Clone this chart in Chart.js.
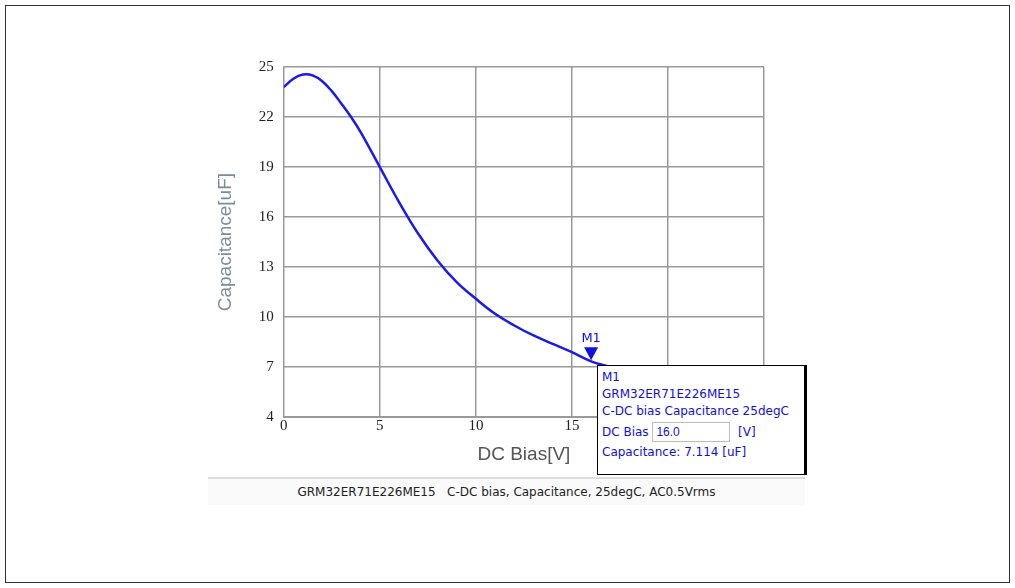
<!DOCTYPE html>
<html lang="en">
<head>
<meta charset="UTF-8">
<title>GRM32ER71E226ME15 C-DC bias</title>
<script src="https://cdn.jsdelivr.net/npm/chart.js@4.4.0/dist/chart.umd.min.js"></script>
<style>
  body { margin: 0; background: #fff; font-family: "DejaVu Sans", sans-serif; }
  #frame { position: absolute; left: 5px; top: 5px; width: 1003px; height: 576px; border: 1px solid #333; }
  #wrap { position: absolute; left: 200px; top: 48px; width: 610px; height: 422px; }
  #footer { position: absolute; left: 208px; top: 477px; width: 597px; height: 26px; border-top: 2px solid #ddd;
            background: #fafafa; font-size: 12px; color: #222; text-align: center; line-height: 26px; }
  #info { position: absolute; left: 597px; top: 365px; width: 210px; height: 110px; background: #fff;
          border: 1px solid #000; border-right: 3px solid #000; color: #1010e0; font-size: 12px; padding: 3px 4px; box-sizing: border-box; }
  #info div { height: 17px; line-height: 17px; }
  #info input { width: 70px; height: 18px; font-size: 12px; color: #1010e0; border: 1px solid #bbb; padding: 0 3px; }
</style>
</head>
<body>
<div id="frame"></div>
<div id="wrap"><canvas id="chart"></canvas></div>
<div id="footer">GRM32ER71E226ME15&nbsp;&nbsp; C-DC bias, Capacitance, 25degC, AC0.5Vrms</div>
<div id="info">
  <div>M1</div>
  <div>GRM32ER71E226ME15</div>
  <div>C-DC bias Capacitance 25degC</div>
  <div style="height:24px;line-height:24px">DC Bias <input value="16.0"> &nbsp;[V]</div>
  <div>Capacitance: 7.114 [uF]</div>
</div>
<script>
    const biasV = [0, 0.5, 1, 1.5, 2, 2.5, 3, 3.5, 4, 5, 6, 7, 8, 9, 10, 11, 12, 13, 14, 15, 16, 17, 18, 19, 20, 21, 22, 23, 24, 25];
    const capUF = [23.8, 24.3, 24.55, 24.5, 24.15, 23.55, 22.8, 22.0, 21.1, 19.0, 16.9, 15.0, 13.4, 12.1, 11.1, 10.2, 9.5, 8.9, 8.4, 7.9, 7.35, 7.0, 6.6, 6.3, 6.0, 5.8, 5.6, 5.4, 5.25, 5.1];
    const yTicks = [4, 7, 10, 13, 16, 19, 22, 25];
    const marker = { x: 16, y: 7.35, label: 'M1' };

    // draw the M1 triangle above the curve point
    const markerPlugin = {
        id: 'marker',
        afterDatasetsDraw(chart) {
            const c = chart.ctx;
            const px = chart.scales.x.getPixelForValue(marker.x);
            const py = chart.scales.y.getPixelForValue(marker.y);
            c.save();
            c.fillStyle = '#1010e0';
            c.beginPath();
            c.moveTo(px - 7, py - 14);
            c.lineTo(px + 7, py - 14);
            c.lineTo(px, py - 1);
            c.closePath();
            c.fill();
            c.font = '13px "DejaVu Sans"';
            c.textAlign = 'center';
            c.fillText(marker.label, px, py - 19);
            c.restore();
        }
    };

    const ctx = document.getElementById('chart').getContext('2d');
    new Chart(ctx, {
        type: 'line',
        data: {
            datasets: [{
                data: biasV.map((v, i) => ({ x: v, y: capUF[i] })),
                borderColor: '#1a1aee',
                borderWidth: 2.5,
                pointRadius: 0,
                tension: 0.4
            }]
        },
        options: {
            responsive: true,
            maintainAspectRatio: false,
            animation: false,
            layout: { padding: { left: 10, right: 46, top: 10, bottom: 0 } },
            plugins: { legend: { display: false }, tooltip: { enabled: false } },
            scales: {
                x: {
                    type: 'linear', min: 0, max: 25,
                    ticks: { stepSize: 5, color: '#222', font: { size: 15, family: 'Liberation Serif' }, padding: 0 },
                    grid: { color: '#999', lineWidth: 1.5, tickLength: 0 },
                    border: { color: '#999' },
                    title: { display: true, text: 'DC Bias[V]', color: '#555', font: { size: 19 }, padding: { top: 8 } }
                },
                y: {
                    type: 'linear', min: 4, max: 25,
                    afterBuildTicks: s => { s.ticks = yTicks.map(v => ({ value: v })); },
                    ticks: { color: '#222', font: { size: 15, family: 'Liberation Serif' }, padding: 10 },
                    grid: { color: '#999', lineWidth: 1.5, tickLength: 0 },
                    border: { color: '#999' },
                    title: { display: true, text: 'Capacitance[uF]', color: '#7d8c99', font: { size: 19 }, padding: { bottom: 12 } }
                }
            }
        },
        plugins: [markerPlugin]
    });
</script>
</body>
</html>
